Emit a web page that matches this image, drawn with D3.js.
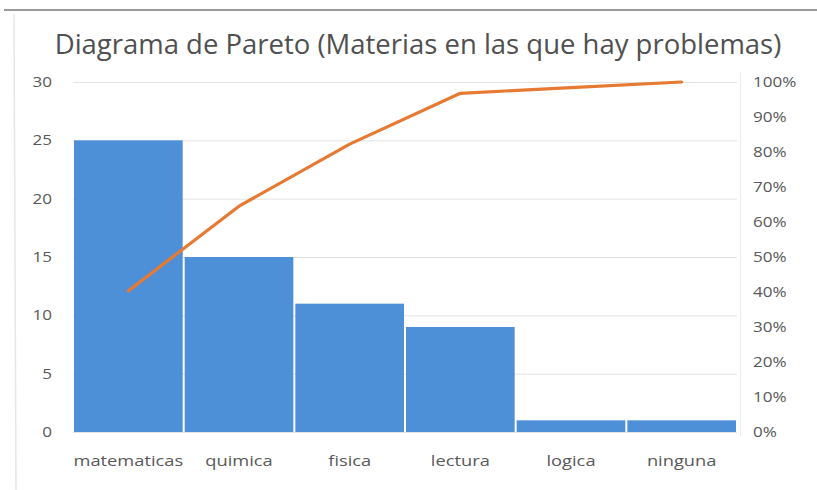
<!DOCTYPE html>
<html>
<head>
<meta charset="utf-8">
<script src="https://cdn.jsdelivr.net/npm/d3@7"></script>
<style>
  html, body { margin: 0; padding: 0; background: #fff; }
  svg { display: block; }
  text { font-family: "Open Sans", "Liberation Sans", sans-serif; }
</style>
</head>
<body>
<svg id="chart" width="817" height="490"></svg>
<script>
// Subjects where students report problems, sorted by frequency
const categories = ["matematicas", "quimica", "fisica", "lectura", "logica", "ninguna"];
const counts = [25, 15, 11, 9, 1, 1];
const countTicks = [0, 5, 10, 15, 20, 25, 30];
const percentTicks = [0, 0.1, 0.2, 0.3, 0.4, 0.5, 0.6, 0.7, 0.8, 0.9, 1.0];
const titleText = "Diagrama de Pareto (Materias en las que hay problemas)";

// Cumulative share for the Pareto line
const total = d3.sum(counts);
const cumulative = d3.cumsum(counts).map(v => v / total);

const W = 817, H = 490;
const margin = { left: 73, right: 80, top: 82, bottom: 58 };
const plotL = margin.left, plotR = W - margin.right, plotT = margin.top, plotB = H - margin.bottom;
const stretch = 1.22; // wide label lettering

const svg = d3.select("#chart");

// Outer frame
svg.append("line").attr("x1", 4).attr("x2", W).attr("y1", 10).attr("y2", 10)
  .attr("stroke", "#9a9a9a").attr("stroke-width", 2);
svg.append("line").attr("x1", 14).attr("x2", 16).attr("y1", 14).attr("y2", 490)
  .attr("stroke", "#e6e6e6").attr("stroke-width", 1.5);

const x = d3.scaleBand().domain(categories).range([plotL, plotR]).paddingInner(0).paddingOuter(0);
const y = d3.scaleLinear().domain([0, 30]).range([plotB, plotT]);
const yPct = d3.scaleLinear().domain([0, 1]).range([plotB, plotT]);

// Gridlines
svg.append("g").selectAll("line").data(countTicks).join("line")
  .attr("x1", plotL).attr("x2", plotR)
  .attr("y1", d => y(d) + 0.5).attr("y2", d => y(d) + 0.5)
  .attr("stroke", "#e3e3e3").attr("stroke-width", 1);

// Right plot-area edge
svg.append("line").attr("x1", plotR + 3.5).attr("x2", plotR + 3.5)
  .attr("y1", plotT - 10).attr("y2", plotB + 4)
  .attr("stroke", "#ececec").attr("stroke-width", 1);

// Bars
svg.append("g").selectAll("rect").data(categories).join("rect")
  .attr("x", d => x(d) + 1)
  .attr("width", x.bandwidth() - 2)
  .attr("y", (d, i) => y(counts[i]))
  .attr("height", (d, i) => y(0) - y(counts[i]))
  .attr("fill", "#4d90d8");

// Cumulative percentage line
const line = d3.line()
  .x((d, i) => x(categories[i]) + x.bandwidth() / 2)
  .y(d => yPct(d));
svg.append("path").datum(cumulative)
  .attr("d", line)
  .attr("fill", "none")
  .attr("stroke", "#e67a32")
  .attr("stroke-width", 3.2)
  .attr("stroke-linejoin", "round")
  .attr("stroke-linecap", "round");

// Left axis
const gl = svg.append("g").attr("transform", `translate(${plotL},0)`)
  .call(d3.axisLeft(y).tickValues(countTicks).tickSize(0));
gl.select(".domain").remove();
gl.selectAll("text")
  .attr("x", -21 / stretch)
  .attr("transform", `scale(${stretch},1)`)
  .attr("fill", "#595959").attr("font-size", 14);

// Right axis
const gr = svg.append("g").attr("transform", `translate(${plotR},0)`)
  .call(d3.axisRight(yPct).tickValues(percentTicks).tickSize(0).tickFormat(d3.format(".0%")));
gr.select(".domain").remove();
gr.selectAll("text")
  .attr("x", 16 / stretch)
  .attr("transform", `scale(${stretch},1)`)
  .attr("fill", "#595959").attr("font-size", 14);

// Category axis
const gb = svg.append("g").attr("transform", `translate(0,${plotB})`)
  .call(d3.axisBottom(x).tickSize(0).tickPadding(23));
gb.select(".domain").remove();
gb.selectAll("text")
  .attr("transform", `scale(${stretch},1)`)
  .attr("fill", "#595959").attr("font-size", 15);

// Title, sized to span its line
const title = svg.append("text")
  .attr("x", 418).attr("y", 54)
  .attr("text-anchor", "middle")
  .attr("fill", "#505050")
  .attr("font-size", 25)
  .text(titleText);
const tw = title.node().getComputedTextLength();
title.attr("font-size", 25 * 727 / tw);
</script>
</body>
</html>
